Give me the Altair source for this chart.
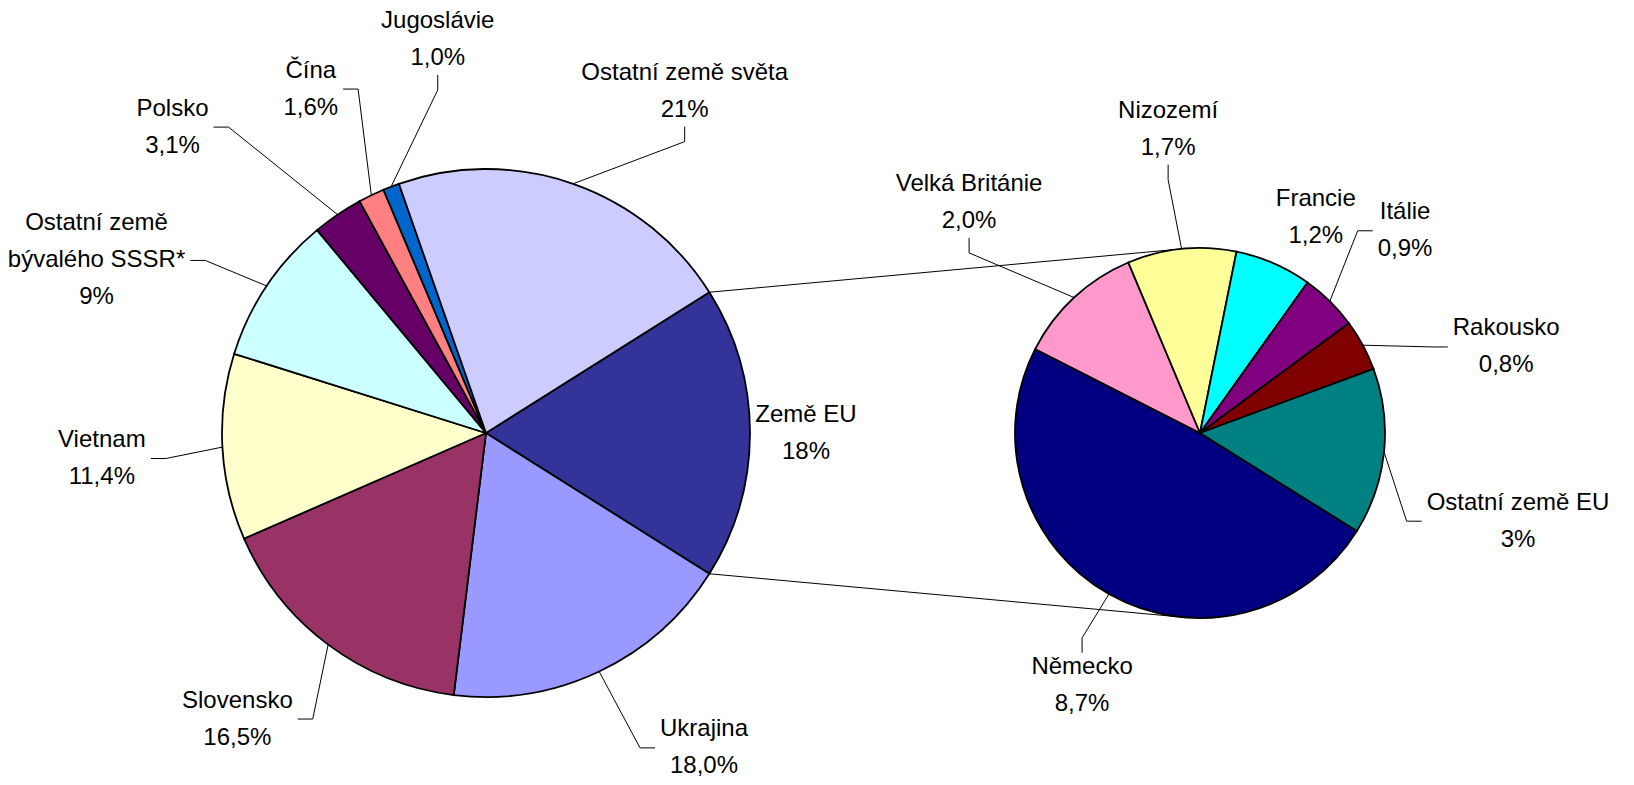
import math
import altair as alt
import pandas as pd

# ---------------- data ----------------
main_categories = ["Země EU", "Ukrajina", "Slovensko", "Vietnam",
                   "Ostatní země bývalého SSSR*", "Polsko", "Čína",
                   "Jugoslávie", "Ostatní země světa"]
main_label_names = ["Země EU", "Ukrajina", "Slovensko", "Vietnam",
                    "Ostatní země\nbývalého SSSR*", "Polsko", "Čína",
                    "Jugoslávie", "Ostatní země světa"]
main_values = [17.9, 18.0, 16.5, 11.4, 9.1, 3.1, 1.6, 1.0, 21.4]
main_value_labels = ["18%", "18,0%", "16,5%", "11,4%", "9%", "3,1%", "1,6%", "1,0%", "21%"]

eu_categories = ["Německo", "Velká Británie", "Nizozemí", "Francie",
                 "Itálie", "Rakousko", "Ostatní země EU"]
eu_values = [8.7, 2.0, 1.7, 1.2, 0.9, 0.8, 2.6]
eu_value_labels = ["8,7%", "2,0%", "1,7%", "1,2%", "0,9%", "0,8%", "3%"]

# ---------------- styles ----------------
main_colors = ["#333399", "#9999FF", "#993366", "#FFFFCC", "#CCFFFF",
               "#660066", "#FF8080", "#0066CC", "#CCCCFF"]
eu_colors = ["#000080", "#FF99CC", "#FFFF99", "#00FFFF", "#800080",
             "#800000", "#008080"]

FONT = "Liberation Sans"
FONT_SIZE = 24
LINE_H = 37

# ---------------- layout ----------------
W, H = 1634, 785
LEFT_C = (486, 433)
LEFT_R = 264
RIGHT_C = (1200, 433)
RIGHT_R = 185
RIGHT_START_DEG = 122.0
CONNECT_ANGLES = (355.0, 185.0)   # where the connector lines meet the second pie

# label placement: (polar angle deg, distance from pie centre, leader attach side)
main_label_layout = [(90, 320, None), (145.3, 383, "left"), (221, 379, "right"),
                     (266.2, 385, "right"), (293.9, 426, "right"), (314.3, 438, "right"),
                     (333, 386, "right"), (353, 396, "bottom"), (30.2, 395, "bottom")]
eu_label_layout = [(205, 279, "top"), (314.9, 326, "bottom"), (354, 305, "bottom"),
                   (28.2, 245, None), (45.4, 288, "left"), (74.3, 318, "left"),
                   (105.5, 330, "left")]

ARIAL_W = {**{c: w for c, w in zip("abcdefghijklmnopqrstuvwxyz",
              [556, 556, 500, 556, 556, 278, 556, 556, 222, 222, 500, 222, 833,
               556, 556, 556, 556, 333, 500, 278, 556, 500, 722, 500, 500, 500])},
           **{c: w for c, w in zip("ABCDEFGHIJKLMNOPQRSTUVWXYZ",
              [667, 667, 722, 722, 667, 611, 778, 722, 278, 500, 667, 556, 833,
               722, 778, 667, 778, 722, 667, 611, 722, 667, 944, 667, 667, 611])},
           **{d: 556 for d in "0123456789"},
           "%": 889, ",": 278, " ": 278, "*": 389,
           "í": 278, "á": 556, "ě": 556, "ý": 500, "é": 556, "Č": 722, "Ě": 667}


def text_w(s):
    return sum(ARIAL_W.get(c, 556) for c in s) * FONT_SIZE / 1000


def polar(c, r, deg):
    a = math.radians(deg)
    return c[0] + r * math.sin(a), c[1] - r * math.cos(a)


def build(categories, label_names, values, value_labels, layout, centre, radius, start_deg):
    total = sum(values)
    rows_txt, rows_rule = [], []
    acc = start_deg
    for cat, ln, v, vl, (la, ld, side) in zip(categories, label_names, values, value_labels, layout):
        span = v / total * 360
        mid = acc + span / 2
        acc += span
        lines = ln.split("\n") + [vl]
        lx, ly = polar(centre, ld, la)
        # Vega puts the first line at y for baseline "middle": shift the block up
        rows_txt.append({"x": lx, "y": ly - (len(lines) - 1) * LINE_H / 2,
                         "label": "\n".join(lines)})
        if side is None:
            continue
        sx, sy = polar(centre, radius, mid)
        half_w = max(text_w(s) for s in lines) / 2
        half_h = len(lines) * LINE_H / 2
        pad, elb = 5, 15
        if side == "bottom":
            ax, ay = lx, ly + half_h - 2
            ex, ey = ax, ay + elb
        elif side == "top":
            ax, ay = lx, ly - half_h + 4
            ex, ey = ax, ay - elb
        elif side == "right":
            ax, ay = lx + half_w + pad, ly
            ex, ey = ax + elb, ay
        else:
            ax, ay = lx - half_w - pad, ly
            ex, ey = ax - elb, ay
        rows_rule.append({"x": sx, "y": sy, "x2": ex, "y2": ey})
        rows_rule.append({"x": ex, "y": ey, "x2": ax, "y2": ay})
    return rows_txt, rows_rule


main_total = sum(main_values)
left_start = 90 - main_values[0] / main_total * 180

txt_a, rule_a = build(main_categories, main_label_names, main_values, main_value_labels,
                      main_label_layout, LEFT_C, LEFT_R, left_start)
txt_b, rule_b = build(eu_categories, eu_categories, eu_values, eu_value_labels,
                      eu_label_layout, RIGHT_C, RIGHT_R, RIGHT_START_DEG)

# connector lines from the EU slice edges to the second pie
eu_span = main_values[0] / main_total * 360
c_rows = []
for a_left, a_right in [(left_start, CONNECT_ANGLES[0]), (left_start + eu_span, CONNECT_ANGLES[1])]:
    x1, y1 = polar(LEFT_C, LEFT_R, a_left)
    x2, y2 = polar(RIGHT_C, RIGHT_R, a_right)
    c_rows.append({"x": x1, "y": y1, "x2": x2, "y2": y2})

main_df = pd.DataFrame({"name": main_categories, "value": main_values,
                        "idx": list(range(len(main_values)))})
eu_df = pd.DataFrame({"name": eu_categories, "value": eu_values,
                      "idx": list(range(len(eu_values)))})


def pie(df, colors, centre, radius, start_deg):
    a0 = math.radians(start_deg)
    return alt.Chart(df).mark_arc(radius=radius, stroke="black", strokeWidth=1.8).encode(
        theta=alt.Theta("value:Q", stack=True, scale=alt.Scale(range=[a0, a0 + 2 * math.pi])),
        order=alt.Order("idx:Q", sort="ascending"),
        color=alt.Color("name:N", scale=alt.Scale(domain=list(df["name"]), range=colors), legend=None),
        x=alt.value(centre[0]),
        y=alt.value(centre[1]),
    )


left_pie = pie(main_df, main_colors, LEFT_C, LEFT_R, left_start)
right_pie = pie(eu_df, eu_colors, RIGHT_C, RIGHT_R, RIGHT_START_DEG)

rules = alt.Chart(pd.DataFrame(rule_a + rule_b + c_rows)).mark_rule(
    color="black", strokeWidth=1).encode(
    x=alt.X("x:Q", scale=None, axis=None), y=alt.Y("y:Q", scale=None, axis=None),
    x2="x2:Q", y2="y2:Q")

texts = alt.Chart(pd.DataFrame(txt_a + txt_b)).mark_text(
    font=FONT, fontSize=FONT_SIZE, lineBreak="\n", lineHeight=LINE_H,
    align="center", baseline="middle", color="black").encode(
    x=alt.X("x:Q", scale=None, axis=None), y=alt.Y("y:Q", scale=None, axis=None),
    text="label:N")

chart = alt.layer(rules, left_pie, right_pie, texts).resolve_scale(
    theta="independent", color="independent"
).properties(
    width=W, height=H, padding=0, autosize=alt.AutoSizeParams(type="none"),
    background="white"
).configure_view(stroke=None)

chart.save("out.html", embed_options={"renderer": "svg", "actions": False})
